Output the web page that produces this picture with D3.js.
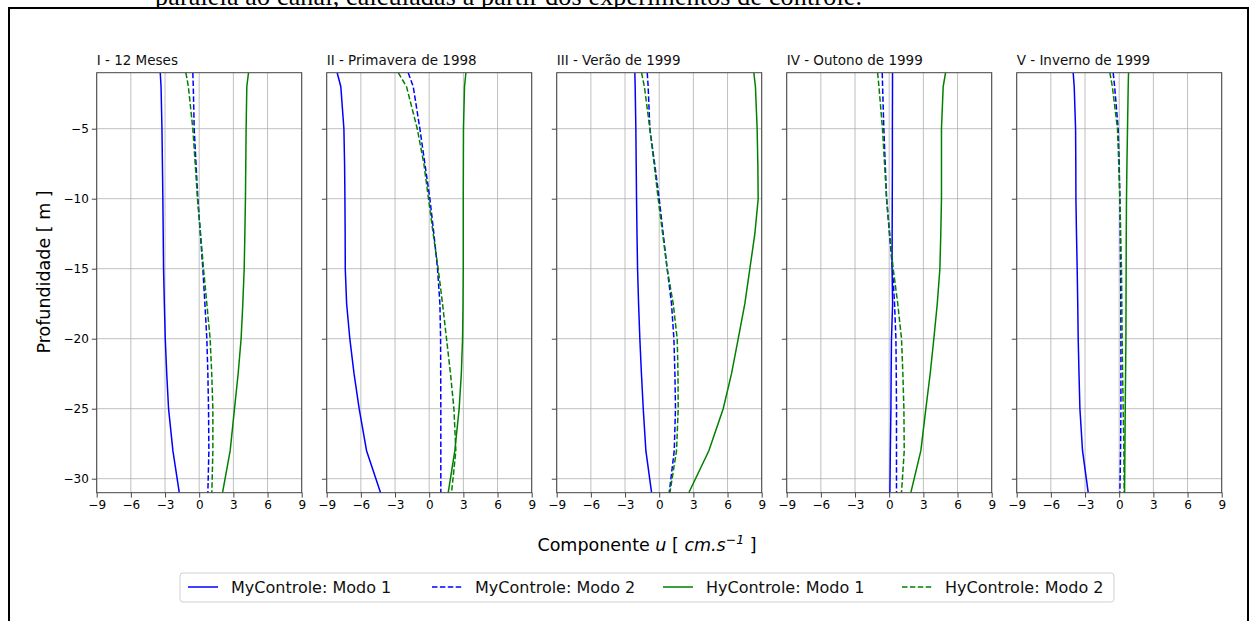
<!DOCTYPE html>
<html><head><meta charset="utf-8">
<script src="https://cdn.jsdelivr.net/npm/d3@7"></script>
<style>body{margin:0;background:#fff}svg{display:block}</style>
</head><body>
<svg id="c" width="1250" height="621"></svg>
<script>
const depths = [-1, -2, -5, -7.5, -10, -12.5, -15, -17.5, -20, -22.5, -25, -28, -31];
const panelTitles = ["I - 12 Meses", "II - Primavera de 1998", "III - Verão de 1999", "IV - Outono de 1999", "V - Inverno de 1999"];
const seriesNames = ["MyControle: Modo 1", "MyControle: Modo 2", "HyControle: Modo 1", "HyControle: Modo 2"];
const xTicks = [-9, -6, -3, 0, 3, 6, 9];
const yTicks = [-5, -10, -15, -20, -25, -30];

const myModo1 = [
  [-3.42,-3.35,-3.27,-3.23,-3.19,-3.16,-3.13,-3.06,-2.98,-2.85,-2.69,-2.31,-1.75],
  [-8.08,-7.76,-7.49,-7.43,-7.4,-7.38,-7.37,-7.25,-6.97,-6.6,-6.15,-5.5,-4.27],
  [-2.14,-2.11,-2.05,-2.02,-1.99,-1.95,-1.9,-1.81,-1.7,-1.56,-1.4,-1.17,-0.67],
  [0.29,0.29,0.28,0.28,0.27,0.26,0.25,0.3,0.2,0.17,0.15,0.1,0.06],
  [-4.04,-3.95,-3.83,-3.81,-3.8,-3.75,-3.69,-3.64,-3.6,-3.53,-3.45,-3.22,-2.72]
];
const myModo2 = [
  [-0.56,-0.52,-0.44,-0.28,-0.12,0.1,0.32,0.5,0.67,0.76,0.82,0.85,0.76],
  [-1.84,-1.4,-0.82,-0.38,0.06,0.41,0.73,0.94,1.0,1.01,1.02,1.02,1.02],
  [-1.05,-0.97,-0.82,-0.4,0,0.35,0.7,1.08,1.29,1.38,1.43,1.32,0.88],
  [-0.61,-0.58,-0.47,-0.35,-0.23,0.02,0.29,0.47,0.59,0.62,0.64,0.64,0.64],
  [-0.53,-0.4,-0.09,0,0.06,0.09,0.12,0.14,0.15,0.15,0.15,0.12,0.06]
];
const hyModo1 = [
  [4.33,4.18,4.12,4.09,4.06,4.01,3.95,3.83,3.68,3.42,3.1,2.72,2.05],
  [3.22,3.1,3.01,3.0,2.99,2.99,2.99,2.97,2.93,2.82,2.63,2.25,1.67],
  [8.31,8.45,8.6,8.66,8.69,8.4,7.96,7.52,6.94,6.35,5.62,4.36,2.6],
  [4.95,4.74,4.59,4.59,4.59,4.53,4.45,4.22,3.92,3.6,3.22,2.78,1.9],
  [0.82,0.79,0.73,0.68,0.64,0.62,0.61,0.6,0.59,0.56,0.53,0.5,0.47]
];
const hyModo2 = [
  [-1.17,-0.95,-0.56,-0.35,-0.15,0.12,0.38,0.67,0.96,1.1,1.2,1.2,1.11],
  [-2.72,-1.99,-1.05,-0.47,-0.06,0.35,0.79,1.17,1.52,1.87,2.17,2.34,1.96],
  [-1.55,-1.3,-0.82,-0.45,-0.09,0.3,0.7,1.23,1.58,1.65,1.67,1.52,0.94],
  [-1.02,-0.9,-0.59,-0.41,-0.23,0.05,0.35,0.75,1.08,1.2,1.29,1.32,1.08],
  [-0.82,-0.6,-0.15,-0.04,0.06,0.13,0.2,0.23,0.26,0.3,0.35,0.41,0.44]
];

const seriesData = [myModo1, myModo2, hyModo1, hyModo2];
const seriesColor = ["#0000ff", "#0000ff", "#008000", "#008000"];
const seriesDash = [null, "5.5,2.4", null, "5.5,2.4"];

const svg = d3.select("#c");
const font = "'DejaVu Sans', sans-serif";

// caption of the document page, partly covered by the figure
svg.append("text").attr("x", 155).attr("y", 5)
  .attr("font-family", "'Liberation Serif', serif").attr("font-size", 26)
  .attr("textLength", 707).attr("lengthAdjust", "spacing")
  .text("paralela ao canal, calculadas a partir dos experimentos de controle.");
svg.append("rect").attr("x", 9).attr("y", 7).attr("width", 1239).attr("height", 640).attr("fill", "#fff");
svg.append("path").attr("d", "M9,650V8H1248V650").attr("fill", "none").attr("stroke", "#000").attr("stroke-width", 2);

const pw = 205, ph = 420, plotTop = 72.7, left0 = 96.7, gap = 230;
const y = d3.scaleLinear().domain([-1, -31]).range([plotTop, plotTop + ph]);

panelTitles.forEach((t, i) => {
  const lx = left0 + i * gap;
  const x = d3.scaleLinear().domain([-9, 9]).range([0, pw]);
  const g = svg.append("g").attr("transform", `translate(${lx},0)`);
  g.append("g").selectAll("line").data(xTicks).join("line")
    .attr("x1", d => x(d)).attr("x2", d => x(d)).attr("y1", plotTop).attr("y2", plotTop + ph)
    .attr("stroke", "#b0b0b0").attr("stroke-width", 0.8);
  g.append("g").selectAll("line").data(yTicks).join("line")
    .attr("x1", 0).attr("x2", pw).attr("y1", d => y(d)).attr("y2", d => y(d))
    .attr("stroke", "#b0b0b0").attr("stroke-width", 0.8);
  const cid = "clip" + i;
  g.append("clipPath").attr("id", cid).append("rect").attr("x", 0).attr("y", plotTop).attr("width", pw).attr("height", ph);
  const line = d3.line().x(d => x(d[0])).y(d => y(d[1]));
  seriesData.forEach((s, k) => {
    const pts = s[i].map((v, j) => [v, depths[j]]);
    g.append("path").attr("clip-path", `url(#${cid})`).attr("d", line(pts))
      .attr("fill", "none").attr("stroke", seriesColor[k]).attr("stroke-width", 1.5)
      .attr("stroke-dasharray", seriesDash[k]);
  });
  const xa = g.append("g").attr("transform", `translate(0,${plotTop + ph})`)
    .call(d3.axisBottom(x).tickValues(xTicks).tickSize(4.9).tickPadding(3).tickFormat(d => d < 0 ? "\u2212" + Math.abs(d) : d));
  const ya = g.append("g")
    .call(d3.axisLeft(y).tickValues(yTicks).tickSize(4.9).tickPadding(3).tickFormat(d => i === 0 ? "\u2212" + Math.abs(d) : ""));
  [xa, ya].forEach(a => {
    a.select(".domain").remove();
    a.selectAll("text").attr("font-family", font).attr("font-size", 12).attr("fill", "#000");
    a.selectAll("line").attr("stroke", "#333").attr("stroke-width", 0.9);
  });
  g.append("rect").attr("x", 0).attr("y", plotTop).attr("width", pw).attr("height", ph)
    .attr("fill", "none").attr("stroke", "#444").attr("stroke-width", 1);
  g.append("text").attr("x", 0).attr("y", 65).attr("font-family", font).attr("font-size", 13.5).attr("fill", "#111").text(t);
});

svg.append("text").attr("transform", "translate(50,272) rotate(-90)").attr("text-anchor", "middle")
  .attr("font-family", font).attr("font-size", 17.5).text("Profundidade [ m ]");
const xl = svg.append("text").attr("x", 647).attr("y", 551).attr("text-anchor", "middle")
  .attr("font-family", font).attr("font-size", 17.5);
xl.append("tspan").text("Componente ");
xl.append("tspan").attr("font-style", "italic").text("u");
xl.append("tspan").text(" [ ");
xl.append("tspan").attr("font-style", "italic").text("cm.s");
xl.append("tspan").attr("font-style", "italic").attr("font-size", 12.5).attr("dy", -7).text("\u22121");
xl.append("tspan").attr("dy", 7).text(" ]");

const leg = svg.append("g");
leg.append("rect").attr("x", 180).attr("y", 573).attr("width", 934).attr("height", 29).attr("rx", 3)
  .attr("fill", "#fff").attr("stroke", "#d0d0d0").attr("stroke-width", 1);
const legX = [188, 432, 663, 902];
seriesNames.forEach((n, k) => {
  leg.append("line").attr("x1", legX[k]).attr("x2", legX[k] + 30).attr("y1", 587).attr("y2", 587)
    .attr("stroke", seriesColor[k]).attr("stroke-width", 1.5).attr("stroke-dasharray", seriesDash[k]);
  leg.append("text").attr("x", legX[k] + 43).attr("y", 593).attr("font-family", font).attr("font-size", 16)
    .attr("fill", "#111").text(n);
});
</script>
</body></html>
